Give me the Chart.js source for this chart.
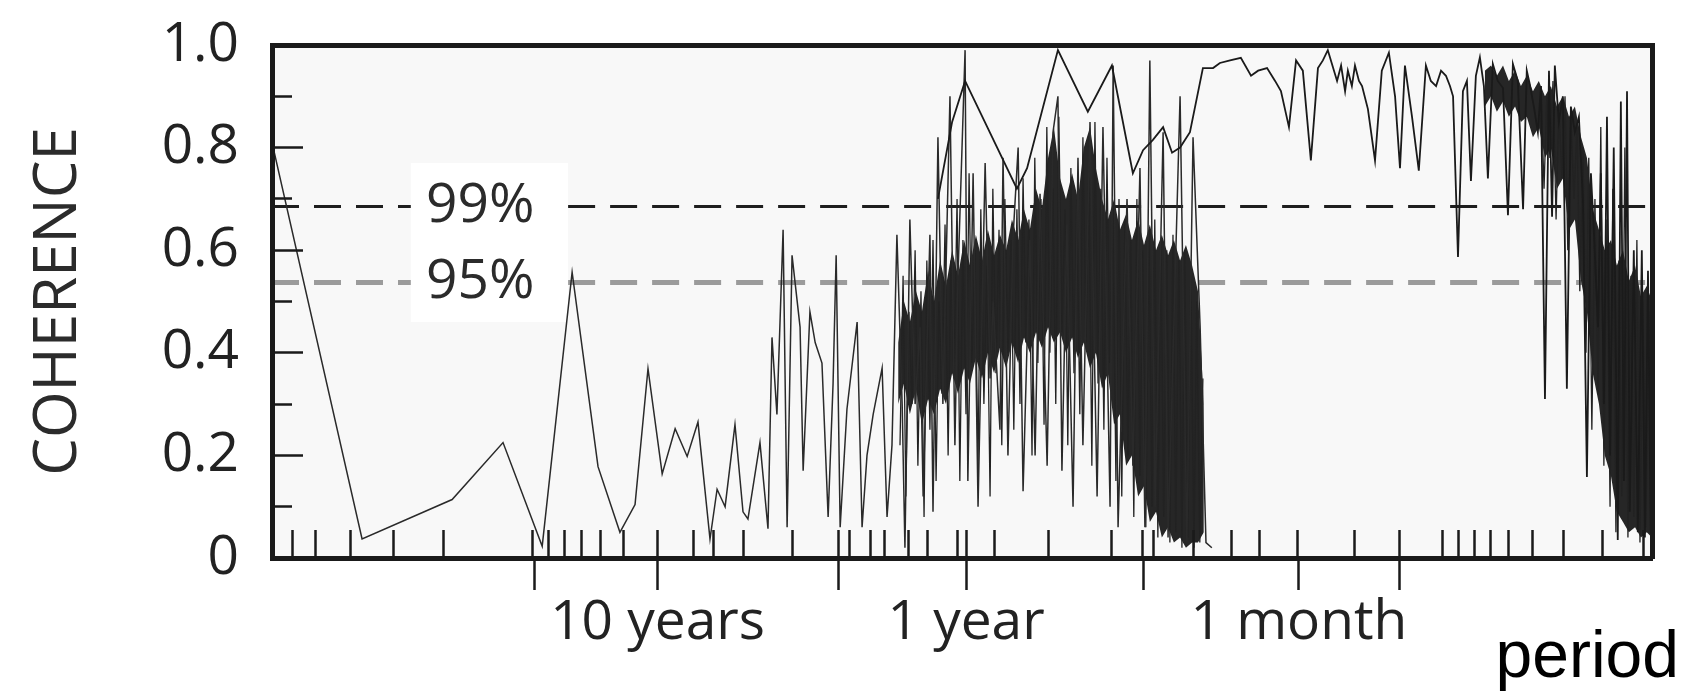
<!DOCTYPE html>
<html>
<head>
<meta charset="utf-8">
<title>Coherence vs period</title>
<script src="https://cdn.jsdelivr.net/npm/chart.js@4.4.1/dist/chart.umd.min.js"></script>
<style>
  html, body { margin: 0; padding: 0; background: #fff; }
  canvas { display: block; }
</style>
</head>
<body>
<canvas id="chart" width="1685" height="695"></canvas>
<script>
// x values are log10 of frequency in cycles per year (0 = 1 year, -1 = 10 years, 1.079 = 1 month)
const xMin = -2.25, xMax = 2.224;

// raw coherence estimate (long periods + the dense band around one year)
const seriesAFreq = [-2.25, -1.958, -1.666, -1.501, -1.374, -1.277, -1.193, -1.122, -1.073, -1.031,
  -0.985, -0.943, -0.904, -0.869, -0.830, -0.807, -0.781, -0.749, -0.723, -0.707,
  -0.668, -0.642, -0.629, -0.613, -0.593, -0.580, -0.564, -0.538, -0.528, -0.506,
  -0.489, -0.467, -0.447, -0.431, -0.421, -0.408, -0.386, -0.353, -0.337, -0.321,
  -0.301, -0.272, -0.256, -0.240, -0.224, -0.207, -0.198, -0.182, -0.165, -0.149,
  -0.139, -0.117, -0.107, -0.091, -0.075, -0.052, -0.036, -0.026, -0.003, 0.006,
  0.023, 0.039, 0.062, 0.078, 0.088, 0.110, 0.120, 0.136, 0.152, 0.169,
  0.185, 0.207, 0.224, 0.240, 0.263, 0.282, 0.298, 0.311, 0.327, 0.347,
  0.363, 0.379, 0.402, 0.425, 0.444, 0.467, 0.477, 0.493, 0.522, 0.541,
  0.564, 0.580, 0.596, 0.613, 0.639, 0.655, 0.694, 0.716, 0.736, 0.759,
  0.778, 0.797];
const seriesACoh = [0.81, 0.037, 0.114, 0.225, 0.023, 0.557, 0.178, 0.05, 0.104, 0.369,
  0.164, 0.252, 0.198, 0.265, 0.037, 0.134, 0.10, 0.26, 0.09, 0.076,
  0.225, 0.057, 0.43, 0.28, 0.64, 0.06, 0.59, 0.45, 0.17, 0.48,
  0.42, 0.38, 0.08, 0.34, 0.59, 0.06, 0.29, 0.46, 0.06, 0.20,
  0.28, 0.37, 0.08, 0.22, 0.63, 0.30, 0.02, 0.66, 0.30, 0.45,
  0.12, 0.63, 0.09, 0.82, 0.30, 0.90, 0.22, 0.55, 0.99, 0.15,
  0.75, 0.10, 0.77, 0.35, 0.50, 0.25, 0.78, 0.20, 0.62, 0.80,
  0.13, 0.62, 0.20, 0.71, 0.18, 0.83, 0.90, 0.17, 0.65, 0.10,
  0.78, 0.22, 0.85, 0.12, 0.84, 0.10, 0.96, 0.06, 0.70, 0.18,
  0.76, 0.06, 0.97, 0.10, 0.83, 0.04, 0.90, 0.03, 0.82, 0.45,
  0.03, 0.02];

// fine oscillation inside the dense band around one year
const denseAFreq = [-0.214, -0.204, -0.195, -0.185, -0.175, -0.165, -0.156, -0.146, -0.136, -0.127,
  -0.117, -0.107, -0.097, -0.088, -0.078, -0.068, -0.058, -0.049, -0.039, -0.029,
  -0.020, -0.010, 0.000, 0.010, 0.019, 0.029, 0.039, 0.048, 0.058, 0.068,
  0.078, 0.087, 0.097, 0.107, 0.116, 0.126, 0.136, 0.146, 0.155, 0.165,
  0.175, 0.185, 0.194, 0.204, 0.214, 0.223, 0.233, 0.243, 0.253, 0.262,
  0.272, 0.282, 0.291, 0.301, 0.311, 0.321, 0.330, 0.340, 0.350, 0.359,
  0.369, 0.379, 0.389, 0.398, 0.408, 0.418, 0.428, 0.437, 0.447, 0.457,
  0.466, 0.476, 0.486, 0.496, 0.505, 0.515, 0.525, 0.534, 0.544, 0.554,
  0.564, 0.573, 0.583, 0.593, 0.603, 0.612, 0.622, 0.632, 0.641, 0.651,
  0.661, 0.671, 0.680, 0.690, 0.700, 0.709, 0.719, 0.729, 0.739, 0.748,
  0.758, 0.768];
const denseACoh = [0.22, 0.55, 0.12, 0.48, 0.30, 0.60, 0.18, 0.52, 0.08, 0.58,
  0.25, 0.62, 0.15, 0.50, 0.32, 0.65, 0.20, 0.58, 0.35, 0.70,
  0.15, 0.62, 0.28, 0.75, 0.38, 0.60, 0.18, 0.68, 0.30, 0.57,
  0.12, 0.72, 0.36, 0.64, 0.22, 0.70, 0.40, 0.62, 0.25, 0.68,
  0.30, 0.74, 0.42, 0.66, 0.20, 0.78, 0.38, 0.70, 0.26, 0.84,
  0.40, 0.72, 0.30, 0.86, 0.44, 0.68, 0.22, 0.76, 0.36, 0.70,
  0.28, 0.82, 0.42, 0.74, 0.18, 0.85, 0.34, 0.72, 0.25, 0.78,
  0.38, 0.68, 0.15, 0.70, 0.12, 0.66, 0.20, 0.62, 0.08, 0.70,
  0.16, 0.60, 0.06, 0.64, 0.10, 0.66, 0.04, 0.62, 0.08, 0.60,
  0.03, 0.63, 0.05, 0.58, 0.02, 0.60, 0.04, 0.55, 0.02, 0.50,
  0.03, 0.35];

// upper trace: peaks near one year, the high plateau and the short-period band
const seriesBFreq = [-0.091, -0.045, -0.003, 0.165, 0.198, 0.298, 0.395, 0.473, 0.541, 0.574,
  0.606, 0.639, 0.668, 0.694, 0.726, 0.768, 0.801, 0.823, 0.856, 0.891,
  0.924, 0.947, 0.976, 1.002, 1.021, 1.047, 1.070, 1.092, 1.118, 1.141,
  1.157, 1.173, 1.203, 1.216, 1.229, 1.238, 1.251, 1.261, 1.274, 1.284,
  1.303, 1.326, 1.348, 1.371, 1.391, 1.407, 1.423, 1.446, 1.468, 1.491,
  1.507, 1.524, 1.540, 1.556, 1.569, 1.579, 1.595, 1.611, 1.624, 1.637,
  1.653, 1.666, 1.679, 1.692, 1.708, 1.724, 1.741, 1.757, 1.773, 1.789,
  1.806, 1.818, 1.828, 1.841, 1.854, 1.864, 1.877, 1.890, 1.900, 1.909,
  1.922, 1.935, 1.948, 1.961, 1.974, 1.987, 2.000, 2.013, 2.026, 2.036,
  2.049, 2.058, 2.068, 2.078, 2.088, 2.100, 2.113, 2.123, 2.133, 2.143,
  2.152, 2.165, 2.178, 2.191, 2.201, 2.211, 2.220];
const seriesBCoh = [0.70, 0.85, 0.93, 0.72, 0.76, 0.99, 0.87, 0.96, 0.75, 0.795,
  0.815, 0.84, 0.79, 0.80, 0.83, 0.955, 0.955, 0.965, 0.97, 0.975,
  0.94, 0.95, 0.955, 0.93, 0.91, 0.84, 0.97, 0.95, 0.775, 0.955,
  0.97, 0.99, 0.93, 0.96, 0.91, 0.95, 0.92, 0.96, 0.93, 0.92,
  0.875, 0.775, 0.95, 0.985, 0.90, 0.76, 0.96, 0.86, 0.755, 0.96,
  0.93, 0.92, 0.95, 0.94, 0.92, 0.90, 0.587, 0.91, 0.93, 0.735,
  0.94, 0.976, 0.92, 0.74, 0.963, 0.93, 0.916, 0.668, 0.963, 0.93,
  0.68, 0.95, 0.923, 0.88, 0.83, 0.92, 0.31, 0.95, 0.665, 0.96,
  0.85, 0.90, 0.33, 0.88, 0.83, 0.86, 0.70, 0.158, 0.75, 0.63,
  0.45, 0.75, 0.30, 0.86, 0.20, 0.80, 0.035, 0.89, 0.15, 0.91,
  0.09, 0.60, 0.05, 0.60, 0.04, 0.56, 0.05];

// fine oscillation in the short-period band
const denseBFreq = [1.864, 1.874, 1.883, 1.893, 1.903, 1.913, 1.922, 1.932, 1.942, 1.951,
  1.961, 1.971, 1.981, 1.990, 2.000, 2.010, 2.019, 2.029, 2.039, 2.049,
  2.058, 2.068, 2.078, 2.088, 2.097, 2.107, 2.117, 2.126, 2.136, 2.146,
  2.156, 2.165, 2.175, 2.185, 2.194, 2.204, 2.214, 2.224];
const denseBCoh = [0.92, 0.72, 0.90, 0.78, 0.93, 0.66, 0.88, 0.74, 0.90, 0.60,
  0.86, 0.70, 0.84, 0.52, 0.80, 0.40, 0.78, 0.25, 0.70, 0.32,
  0.84, 0.18, 0.66, 0.10, 0.72, 0.05, 0.58, 0.12, 0.80, 0.04,
  0.55, 0.08, 0.62, 0.03, 0.50, 0.06, 0.48, 0.04];

// solid cores of the densely oscillating parts (lower / upper edge)
const bandAFreq = [-0.220, -0.201, -0.182, -0.162, -0.143, -0.123, -0.104, -0.084, -0.065, -0.045,
  -0.026, -0.006, 0.013, 0.032, 0.052, 0.071, 0.091, 0.110, 0.130, 0.149,
  0.169, 0.188, 0.207, 0.227, 0.246, 0.266, 0.285, 0.305, 0.324, 0.344,
  0.363, 0.382, 0.402, 0.421, 0.441, 0.460, 0.480, 0.499, 0.519, 0.538,
  0.558, 0.577, 0.596, 0.616, 0.635, 0.655, 0.674, 0.694, 0.713, 0.733,
  0.752, 0.771];
const bandALow = [0.30, 0.34, 0.28, 0.33, 0.26, 0.31, 0.28, 0.33, 0.30, 0.36,
  0.32, 0.37, 0.34, 0.39, 0.35, 0.40, 0.36, 0.41, 0.37, 0.42,
  0.38, 0.43, 0.40, 0.44, 0.41, 0.45, 0.42, 0.44, 0.40, 0.43,
  0.39, 0.42, 0.37, 0.40, 0.33, 0.36, 0.26, 0.28, 0.18, 0.20,
  0.12, 0.14, 0.07, 0.09, 0.04, 0.06, 0.03, 0.04, 0.02, 0.03,
  0.03, 0.05];
const bandAHigh = [0.42, 0.50, 0.46, 0.52, 0.48, 0.56, 0.50, 0.58, 0.53, 0.60,
  0.55, 0.62, 0.57, 0.63, 0.58, 0.64, 0.59, 0.63, 0.60, 0.66,
  0.62, 0.68, 0.64, 0.72, 0.68, 0.78, 0.84, 0.74, 0.70, 0.75,
  0.70, 0.80, 0.84, 0.76, 0.70, 0.66, 0.70, 0.64, 0.67, 0.62,
  0.66, 0.61, 0.65, 0.60, 0.63, 0.59, 0.62, 0.58, 0.61, 0.57,
  0.52, 0.30];

const bandBFreq = [1.682, 1.702, 1.721, 1.741, 1.760, 1.780, 1.799, 1.818, 1.838, 1.857,
  1.877, 1.896, 1.916, 1.935, 1.955, 1.974, 1.994, 2.013, 2.032, 2.052,
  2.071, 2.091, 2.110, 2.130, 2.149, 2.169, 2.188, 2.207, 2.224];
const bandBLow = [0.88, 0.90, 0.87, 0.89, 0.86, 0.88, 0.85, 0.86, 0.82, 0.84,
  0.78, 0.80, 0.72, 0.74, 0.64, 0.66, 0.54, 0.48, 0.36, 0.30,
  0.20, 0.16, 0.09, 0.07, 0.05, 0.06, 0.04, 0.05, 0.04];
const bandBHigh = [0.95, 0.96, 0.94, 0.96, 0.93, 0.95, 0.92, 0.94, 0.91, 0.93,
  0.90, 0.92, 0.88, 0.90, 0.86, 0.88, 0.82, 0.78, 0.68, 0.64,
  0.60, 0.62, 0.57, 0.60, 0.54, 0.57, 0.51, 0.53, 0.50];

// significance levels
const level99 = 0.685;
const level95 = 0.537;

// axis ticks
const periodTicks = [-1.40, -1.0, -0.415, 0, 0.574, 1.079, 1.407];
const periodLabels = ['', '10 years', '', '1 year', '', '1 month', ''];
const innerPeriodTicks = [-2.185, -2.110, -1.997, -1.857, -1.695, -1.404, -1.355, -1.303, -1.248, -1.186,
  -1.112, -1.0, -0.882, -0.820, -0.720, -0.564, -0.415, -0.379, -0.311, -0.263,
  -0.188, -0.126, -0.026, 0, 0.091, 0.269, 0.473, 0.571, 0.609, 0.739,
  0.862, 0.953, 1.076, 1.258, 1.407, 1.546, 1.598, 1.650, 1.699, 1.760,
  1.838, 1.938, 2.065, 2.198];
const cohMajorTicks = [0.2, 0.4, 0.6, 0.8];
const cohMinorTicks = [0.1, 0.3, 0.5, 0.7, 0.9];

// white panel behind the 99% / 95% labels (data units)
const labelPanel = { x0: -1.80, x1: -1.29, y0: 0.46, y1: 0.77, textX: -1.575 };

const ink = '#1a1a1a';
const zip = (xs, ys) => xs.map((x, i) => ({ x, y: ys[i] }));
const levelLine = v => [
  { x: xMin, y: v }, { x: labelPanel.x0, y: v }, { x: labelPanel.x0, y: null },
  { x: labelPanel.x1, y: v }, { x: xMax, y: v }
];
const fixedTicks = vals => scale => { scale.ticks = vals.map(value => ({ value })); };
const noSize = scale => { if (scale.isHorizontal()) scale.height = 0; else scale.width = 0; };

const panelPlugin = {
  id: 'panel',
  beforeDraw(chart) {
    const { ctx, chartArea: a, scales: { x, y } } = chart;
    ctx.save();
    ctx.fillStyle = '#f8f8f8';
    ctx.fillRect(a.left, a.top, a.right - a.left, a.bottom - a.top);
    const l = x.getPixelForValue(labelPanel.x0), r = x.getPixelForValue(labelPanel.x1);
    const t = y.getPixelForValue(labelPanel.y1), b = y.getPixelForValue(labelPanel.y0);
    ctx.fillStyle = '#ffffff';
    ctx.fillRect(l, t, r - l, b - t);
    ctx.restore();
  },
  afterDraw(chart) {
    const { ctx, scales: { x, y } } = chart;
    ctx.save();
    ctx.font = '55px "Open Sans"';
    ctx.fillStyle = '#2b2b2b';
    ctx.textAlign = 'center';
    ctx.textBaseline = 'middle';
    ctx.fillText('99%', x.getPixelForValue(labelPanel.textX), y.getPixelForValue(level99));
    ctx.fillText('95%', x.getPixelForValue(labelPanel.textX), y.getPixelForValue(level95));
    ctx.restore();
  }
};

function draw() {
  Chart.defaults.font.family = '"Open Sans", sans-serif';
  Chart.defaults.color = '#222';

  new Chart(document.getElementById('chart'), {
    type: 'line',
    data: {
      datasets: [
        { label: 'coherence B', data: zip(seriesBFreq, seriesBCoh), borderColor: ink, borderWidth: 1.8, order: 0 },
        { label: 'coherence A', data: zip(seriesAFreq, seriesACoh), borderColor: '#2a2a2a', borderWidth: 1.5, order: 1 },
        { label: 'dense A', data: zip(denseAFreq, denseACoh), borderColor: '#222', borderWidth: 1.3, order: 1 },
        { label: 'dense B', data: zip(denseBFreq, denseBCoh), borderColor: '#222', borderWidth: 1.3, order: 1 },
        { label: 'band A', data: zip(bandAFreq, bandAHigh), borderWidth: 0, backgroundColor: '#262626', fill: '+1', order: 2 },
        { label: 'band A low', data: zip(bandAFreq, bandALow), borderWidth: 0, fill: false, order: 2 },
        { label: 'band B', data: zip(bandBFreq, bandBHigh), borderWidth: 0, backgroundColor: '#262626', fill: '+1', order: 2 },
        { label: 'band B low', data: zip(bandBFreq, bandBLow), borderWidth: 0, fill: false, order: 2 },
        { label: '99%', data: levelLine(level99), borderColor: '#1e1e1e', borderWidth: 3, borderDash: [27, 15], spanGaps: false, order: 5 },
        { label: '95%', data: levelLine(level95), borderColor: '#9b9b9b', borderWidth: 5, borderDash: [27, 15], spanGaps: false, order: 5 }
      ]
    },
    options: {
      responsive: false,
      animation: false,
      devicePixelRatio: 1,
      parsing: false,
      normalized: true,
      elements: { point: { radius: 0 }, line: { tension: 0 } },
      layout: { padding: { top: 45, right: 6, left: 0, bottom: 0 } },
      plugins: {
        legend: { display: false },
        tooltip: { enabled: false },
        title: {
          display: true, text: 'period', position: 'bottom', align: 'end',
          color: '#000', font: { family: '"Liberation Sans", Arial, sans-serif', size: 66, weight: 'normal', lineHeight: 1 },
          padding: { top: -60, bottom: 3 }
        }
      },
      scales: {
        x: {
          type: 'linear', position: 'bottom', min: xMin, max: xMax, weight: 1,
          afterBuildTicks: fixedTicks(periodTicks),
          afterFit: s => { s.height = 128; },
          ticks: { autoSkip: false, maxRotation: 0, minRotation: 0, padding: 0, color: '#222',
            font: { size: 55 }, callback: (v, i) => periodLabels[i] },
          grid: { drawOnChartArea: false, tickLength: 32, tickWidth: 2.5, tickColor: ink, z: 1 },
          border: { display: true, width: 5, color: ink, z: 1 }
        },
        xInner: {
          type: 'linear', position: 'bottom', min: xMin, max: xMax, weight: 0,
          afterBuildTicks: fixedTicks(innerPeriodTicks), afterFit: noSize,
          ticks: { display: false, autoSkip: false },
          grid: { drawOnChartArea: false, tickLength: -28, tickWidth: 2.5, tickColor: ink, z: 1 },
          border: { display: false }
        },
        xTop: {
          type: 'linear', position: 'top', min: xMin, max: xMax, afterFit: noSize,
          ticks: { display: false }, grid: { display: false, drawTicks: false },
          border: { display: true, width: 5, color: ink, z: 1 }
        },
        y: {
          type: 'linear', position: 'left', min: 0, max: 1, weight: 1,
          afterFit: s => { s.width = 272; },
          ticks: { stepSize: 0.2, padding: 0, color: '#222', font: { size: 55 },
            callback: v => (v === 0 ? '0' : v.toFixed(1)) },
          // invisible tick marks keep the labels clear of the frame
          grid: { drawOnChartArea: false, drawTicks: true, tickLength: 33, tickColor: 'rgba(0,0,0,0)' },
          border: { display: true, width: 5, color: ink, z: 1 },
          title: { display: true, text: 'COHERENCE', color: '#2b2b2b', font: { size: 60 }, padding: { top: 23, bottom: 0 } }
        },
        yMajor: {
          type: 'linear', position: 'left', min: 0, max: 1, weight: 0,
          afterBuildTicks: fixedTicks(cohMajorTicks), afterFit: noSize,
          ticks: { display: false, autoSkip: false },
          grid: { drawOnChartArea: false, tickLength: -31, tickWidth: 2.5, tickColor: ink, z: 1 },
          border: { display: false }
        },
        yMinor: {
          type: 'linear', position: 'left', min: 0, max: 1, weight: 0,
          afterBuildTicks: fixedTicks(cohMinorTicks), afterFit: noSize,
          ticks: { display: false, autoSkip: false },
          grid: { drawOnChartArea: false, tickLength: -20, tickWidth: 2.5, tickColor: ink, z: 1 },
          border: { display: false }
        },
        yRight: {
          type: 'linear', position: 'right', min: 0, max: 1,
          afterFit: s => { s.width = 27; },
          ticks: { display: false }, grid: { display: false, drawTicks: false },
          border: { display: true, width: 5, color: ink, z: 1 }
        }
      }
    },
    plugins: [panelPlugin]
  });
}

Promise.all([
  document.fonts.load('55px "Open Sans"'),
  document.fonts.load('66px "Liberation Sans"')
]).then(draw, draw);
</script>
</body>
</html>
